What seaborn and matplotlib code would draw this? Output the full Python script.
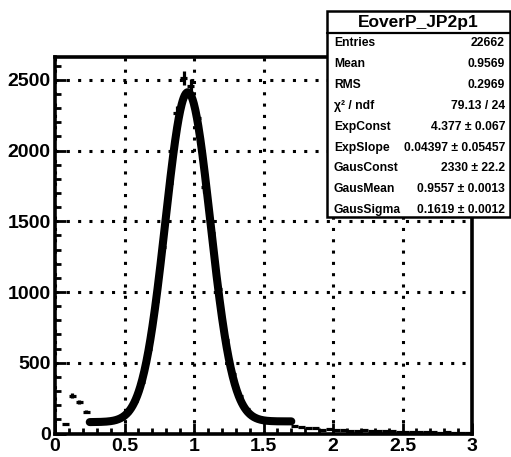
import numpy as np
import pandas as pd
import matplotlib
matplotlib.use("Agg")
import matplotlib.pyplot as plt
import seaborn as sns
from matplotlib.patches import Rectangle

# histogram EoverP_JP2p1: 60 bins from 0 to 3
bin_width = 0.05
bin_centers = np.arange(60) * bin_width + 0.025
counts = [
    0, 67, 267, 220, 154, 78, 84, 88, 95, 112,
    151, 232, 366, 598, 935, 1318, 1770, 2265, 2515, 2460,
    2230, 1745, 1420, 1020, 660, 420, 262, 170, 125, 100,
    92, 88, 84, 80, 52, 48, 36, 40, 28, 30,
    22, 25, 20, 18, 22, 17, 20, 15, 18, 12,
    10, 9, 10, 8, 9, 7, 8, 6, 6, 5,
]

# fit parameters (expo + gaus), from the stat box
exp_const, exp_slope = 4.377, 0.04397
gaus_const, gaus_mean, gaus_sigma = 2330, 0.9557, 0.1619
fit_range = (0.25, 1.70)

stat_labels = ["Entries", "Mean", "RMS", "\u03c7\u00b2 / ndf", "ExpConst", "ExpSlope",
               "GausConst", "GausMean", "GausSigma"]
stat_values = ["22662", "0.9569", "0.2969", "79.13 / 24", "4.377 \u00b1 0.067",
               "0.04397 \u00b1 0.05457", "2330 \u00b1 22.2", "0.9557 \u00b1 0.0013",
               "0.1619 \u00b1 0.0012"]

sns.set_theme(style="white")
plt.rcParams["font.family"] = ["Liberation Sans", "DejaVu Sans"]
plt.rcParams["font.weight"] = "bold"
plt.rcParams["text.color"] = "black"
plt.rcParams["xtick.labelcolor"] = "black"
plt.rcParams["ytick.labelcolor"] = "black"

W, H = 511, 457
fig = plt.figure(figsize=(W / 100, H / 100), dpi=100)
ax = fig.add_axes([55 / W, 1 - 433.5 / H, (472 - 55) / W, (433.5 - 57) / H])

df = pd.DataFrame({"x": bin_centers, "n": counts})
df = df[df["n"] > 0]
ax.errorbar(df["x"], df["n"], xerr=bin_width / 2, yerr=np.sqrt(df["n"]),
            fmt="none", ecolor="black", elinewidth=2.3, capsize=0, zorder=3)

xf = np.linspace(fit_range[0], fit_range[1], 400)
yf = np.exp(exp_const + exp_slope * xf) + gaus_const * np.exp(-0.5 * ((xf - gaus_mean) / gaus_sigma) ** 2)
sns.lineplot(x=xf, y=yf, color="black", linewidth=5.8, ax=ax, zorder=4,
             solid_capstyle="round")

ax.set_xlim(0, 3)
ax.set_ylim(0, 2662)
ax.set_xticks(np.arange(0, 3.01, 0.5))
ax.set_xticklabels(["0", "0.5", "1", "1.5", "2", "2.5", "3"])
ax.set_xticks(np.arange(0, 3.01, 0.1), minor=True)
ax.set_yticks(np.arange(0, 2501, 500))
ax.set_yticks(np.arange(0, 2662, 100), minor=True)

ax.grid(True, which="major", color="black", linewidth=2.2,
        linestyle=(0, (1, 2.7)), dash_capstyle="butt")
for s in ax.spines.values():
    s.set_linewidth(2.6)
    s.set_color("black")
ax.tick_params(which="both", direction="in", bottom=True, left=True, top=False,
               right=False, width=2, color="black", labelcolor="black")
ax.tick_params(which="major", length=8, labelsize=14, pad=3)
ax.tick_params(which="minor", length=4.5)
for lab in ax.get_xticklabels() + ax.get_yticklabels():
    lab.set_fontweight("bold")

# stat box
box_l, box_r, box_t, box_b = 327, 510, 11, 217
title_b = 33
def fx(px):
    return px / W
def fy(py):
    return 1 - py / H
fig.patches.append(Rectangle((fx(box_l), fy(box_b)), fx(box_r - box_l), (box_b - box_t) / H,
                             transform=fig.transFigure, facecolor="white",
                             edgecolor="black", linewidth=1.8, zorder=10))
fig.lines.append(plt.Line2D([fx(box_l), fx(box_r)], [fy(title_b), fy(title_b)],
                            transform=fig.transFigure, color="black", linewidth=1.6, zorder=11))
fig.text(fx((box_l + box_r) / 2), fy(22.5), "EoverP_JP2p1", ha="center", va="center",
         fontsize=12.5, fontweight="bold", color="black", zorder=12)
for i, (lab, val) in enumerate(zip(stat_labels, stat_values)):
    y = fy(43.3 + i * 20.85)
    fig.text(fx(334), y, lab, ha="left", va="center", fontsize=8.7, fontweight="bold",
             color="black", zorder=12)
    fig.text(fx(505), y, val, ha="right", va="center", fontsize=8.7, fontweight="bold",
             color="black", zorder=12)

fig.savefig("out.png", dpi=100)
